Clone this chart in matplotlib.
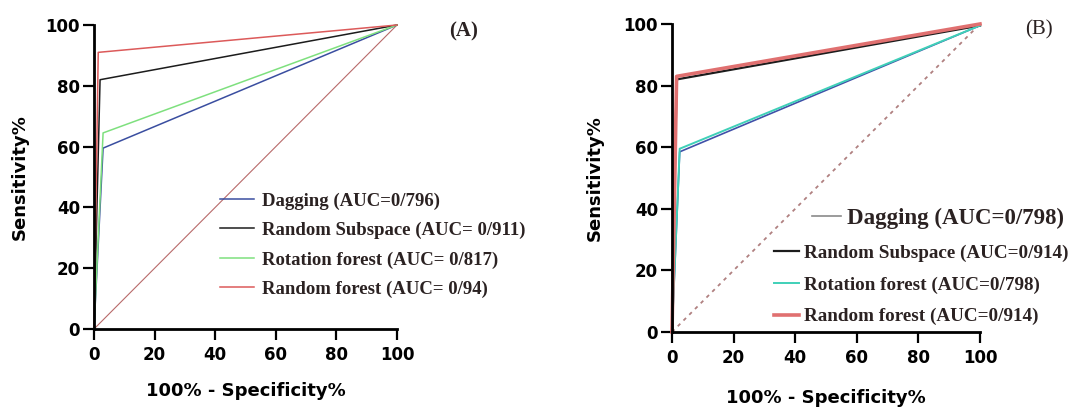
import numpy as np
import matplotlib
matplotlib.use("Agg")
import matplotlib.pyplot as plt

#----------------------------------------------------------------------------------------#
# Data (ROC points)

ticks = [0, 20, 40, 60, 80, 100]

# panel A
a_labels = ['Dagging (AUC=0/796)', 'Random Subspace (AUC= 0/911)',
            'Rotation forest (AUC= 0/817)', 'Random forest (AUC= 0/94)']
a_fpr = [[0, 3.0, 100], [0, 2.0, 100], [0, 3.0, 100], [0, 1.4, 100]]
a_tpr = [[0, 59.5, 100], [0, 82.0, 100], [0, 64.5, 100], [0, 91.0, 100]]

# panel B
b_labels = ['Dagging (AUC=0/798)', 'Random Subspace (AUC=0/914)',
            'Rotation forest (AUC=0/798)', 'Random forest (AUC=0/914)']
b_fpr = [[0, 2.5, 100], [0, 1.5, 100], [0, 2.5, 100], [0, 1.5, 100]]
b_tpr = [[0, 58.5, 99.5], [0, 82.0, 99.5], [0, 59.5, 99.5], [0, 83.0, 100]]

diag = [0, 100]

#----------------------------------------------------------------------------------------#
# Styles

a_colors = ['#3a4ea0', '#1c1c1c', '#7ee07e', '#dc5a5a']
a_widths = [1.1, 1.1, 1.1, 1.1]
b_colors = ['#4050a8', '#1c1c1c', '#3fd0b8', '#e07070']
b_widths = [1.2, 1.6, 1.4, 2.6]
b_order = [1, 0, 2, 3]   # draw order: black under red, blue under teal

sans = 'DejaVu Sans'
serif = 'Liberation Serif'
txt_col = '#2b2222'

fig = plt.figure(figsize=(10.79, 4.07), dpi=100)

def style_axes(ax, lab_x, lab_y):
    ax.set_xlim(0, 100)
    ax.set_ylim(0, 100)
    ax.set_xticks(ticks)
    ax.set_yticks(ticks)
    for s in ['top', 'right']:
        ax.spines[s].set_visible(False)
    for s in ['left', 'bottom']:
        ax.spines[s].set_linewidth(2.0)
    ax.tick_params(direction='out', length=8, width=1.6, labelsize=12)
    ax.tick_params(axis='y', pad=2)
    ax.tick_params(axis='x', pad=4)
    for t in ax.get_xticklabels() + ax.get_yticklabels():
        t.set_fontfamily(sans)
        t.set_fontweight('bold')
    ax.set_xlabel('100% - Specificity%', fontsize=13, fontweight='bold', family=sans)
    ax.set_ylabel('Sensitivity%', fontsize=13, fontweight='bold', family=sans)
    ax.xaxis.set_label_coords(0.5, lab_x)
    ax.yaxis.set_label_coords(lab_y, 0.5)

def serif_legend(ax, handles, labels, anchor, loc, size, hl, pad, spacing):
    leg = ax.legend(handles, labels, loc=loc, bbox_to_anchor=anchor, frameon=False,
                    borderpad=0, borderaxespad=0, handlelength=hl, handletextpad=pad,
                    labelspacing=spacing,
                    prop={'family': serif, 'weight': 'bold', 'size': size})
    for t in leg.get_texts():
        t.set_color(txt_col)
    return leg

#----------------------------------------------------------------------------------------#
# Panel A

axA = fig.add_axes([94/1079, 1-329/407, 303/1079, 304/407])
axA.plot(diag, diag, color='#b86a6a', lw=0.8, clip_on=False)
a_lines = []
for i in range(4):
    ln, = axA.plot(a_fpr[i], a_tpr[i], color=a_colors[i], lw=a_widths[i], clip_on=False)
    a_lines.append(ln)
style_axes(axA, -0.175, -0.215)
serif_legend(axA, a_lines, a_labels, (0.416, 0.45), 'upper left', 13.5, 1.8, 0.45, 0.65)
axA.text(1.22, 0.98, '(A)', transform=axA.transAxes, ha='center', va='center',
         family=serif, fontweight='bold', fontsize=15, color=txt_col)

#----------------------------------------------------------------------------------------#
# Panel B

axB = fig.add_axes([672/1079, 1-332/407, 308/1079, 308/407])
axB.plot(diag, diag, color='#b08080', lw=1.3, ls=(0, (2, 2.5)), clip_on=False)
b_lines = {}
for i in b_order:
    b_lines[i], = axB.plot(b_fpr[i], b_tpr[i], color=b_colors[i], lw=b_widths[i],
                           clip_on=False)
style_axes(axB, -0.185, -0.22)
# first entry is written larger and sits further right in the original
legB1 = serif_legend(axB, [b_lines[0]], b_labels[:1], (0.455, 0.37), 'center left',
                     16.5, 1.25, 0.25, 0.5)
legB1.get_lines()[0].set_color('#8a8a8a')
axB.add_artist(legB1)
serif_legend(axB, [b_lines[i] for i in range(1, 4)], b_labels[1:], (0.33, 0.285),
             'upper left', 13.8, 1.3, 0.3, 0.75)
axB.text(1.19, 0.98, '(B)', transform=axB.transAxes, ha='center', va='center',
         family=serif, fontsize=15, color=txt_col)

plt.savefig('out.png', dpi=100)
